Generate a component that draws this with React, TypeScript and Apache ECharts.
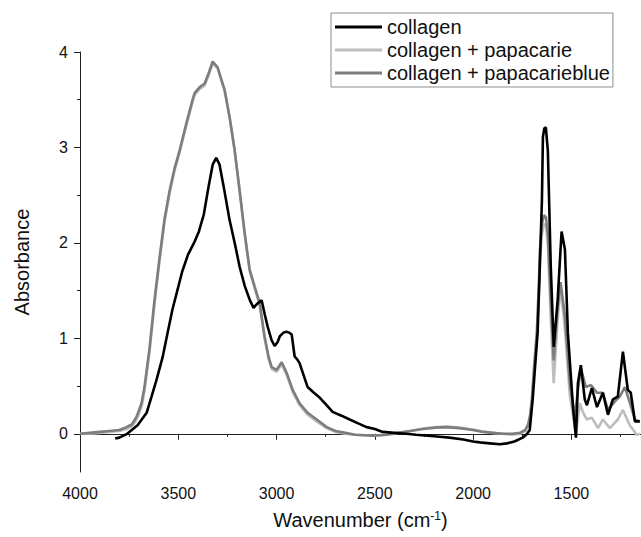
import React, { useEffect, useRef } from "react";
import * as echarts from "echarts";

// [wavenumber, absorbance]
const collagen: [number, number][] = [
  [3821, -0.05], [3800, -0.04], [3760, 0.0], [3707, 0.09], [3661, 0.22], [3636, 0.39], [3610, 0.57],
  [3580, 0.8], [3555, 1.05], [3530, 1.3], [3505, 1.5], [3480, 1.7], [3450, 1.88], [3420, 2.0],
  [3395, 2.12], [3370, 2.3], [3345, 2.6], [3325, 2.82], [3307, 2.89], [3290, 2.82], [3270, 2.6],
  [3240, 2.25], [3213, 2.0], [3188, 1.75], [3162, 1.55], [3136, 1.4], [3117, 1.32], [3100, 1.36],
  [3076, 1.4], [3060, 1.25], [3045, 1.12], [3025, 0.98], [3010, 0.92], [2995, 0.96], [2984, 1.02],
  [2965, 1.06], [2950, 1.07], [2935, 1.06], [2923, 1.04], [2908, 0.81], [2895, 0.78], [2883, 0.74],
  [2860, 0.6], [2842, 0.49], [2810, 0.43], [2781, 0.38], [2750, 0.31], [2715, 0.23], [2670, 0.19],
  [2628, 0.15], [2585, 0.11], [2542, 0.07], [2500, 0.05], [2460, 0.02], [2400, 0.01], [2340, 0.0],
  [2290, -0.01], [2230, -0.02], [2170, -0.03], [2120, -0.04], [2050, -0.06], [2000, -0.08],
  [1966, -0.09], [1915, -0.1], [1864, -0.11], [1829, -0.1], [1790, -0.08], [1748, -0.04],
  [1725, 0.0], [1712, 0.04], [1697, 0.36], [1685, 0.7], [1672, 1.06], [1660, 1.8], [1650, 2.45],
  [1645, 3.11], [1638, 3.2], [1630, 3.21], [1620, 2.97], [1605, 1.75], [1590, 0.91], [1570, 1.4],
  [1550, 2.12], [1533, 1.93], [1518, 1.06], [1492, 0.28], [1477, -0.04], [1467, 0.53], [1452, 0.72],
  [1432, 0.36], [1421, 0.3], [1396, 0.48], [1370, 0.28], [1340, 0.43], [1314, 0.2], [1289, 0.36],
  [1264, 0.39], [1238, 0.86], [1213, 0.46], [1198, 0.43], [1177, 0.13], [1152, 0.13],
];

const papacarie: [number, number][] = [
  [4000, 0.0], [3950, 0.0], [3900, 0.01], [3850, 0.02], [3800, 0.03], [3763, 0.05], [3735, 0.08],
  [3712, 0.15], [3687, 0.28], [3672, 0.45], [3646, 0.86], [3621, 1.36], [3595, 1.82], [3570, 2.22],
  [3544, 2.52], [3519, 2.76], [3493, 2.95], [3458, 3.24], [3430, 3.46], [3417, 3.55], [3392, 3.61],
  [3366, 3.65], [3345, 3.76], [3325, 3.88], [3300, 3.83], [3264, 3.59], [3239, 3.31], [3213, 2.96],
  [3188, 2.54], [3162, 2.09], [3137, 1.71], [3111, 1.52], [3086, 1.35], [3061, 1.0], [3040, 0.78],
  [3025, 0.68], [3000, 0.65], [2974, 0.73], [2949, 0.62], [2918, 0.44], [2883, 0.3], [2842, 0.2],
  [2796, 0.13], [2745, 0.06], [2700, 0.02], [2650, 0.0], [2600, -0.01], [2510, -0.02], [2440, -0.01],
  [2383, 0.01], [2320, 0.03], [2256, 0.055], [2190, 0.07], [2134, 0.075], [2070, 0.065], [2001, 0.045],
  [1950, 0.025], [1900, 0.01], [1850, 0.0], [1800, -0.01], [1762, 0.0], [1735, 0.03], [1720, 0.08],
  [1710, 0.18], [1701, 0.33], [1690, 0.65], [1676, 1.0], [1665, 1.5], [1660, 1.8], [1650, 2.1],
  [1640, 2.2], [1630, 2.18], [1620, 2.0], [1605, 1.2], [1590, 0.53], [1570, 1.2], [1555, 1.54],
  [1533, 1.1], [1508, 0.4], [1477, 0.0], [1457, 0.32], [1440, 0.22], [1421, 0.15], [1396, 0.17],
  [1365, 0.06], [1340, 0.15], [1304, 0.06], [1264, 0.15], [1238, 0.25], [1203, 0.09], [1167, -0.01],
  [1152, 0.0],
];

const papacarieblue: [number, number][] = [
  [4000, 0.0], [3950, 0.01], [3900, 0.02], [3850, 0.03], [3800, 0.04], [3763, 0.07], [3735, 0.1],
  [3712, 0.18], [3687, 0.32], [3672, 0.49], [3646, 0.9], [3621, 1.4], [3595, 1.85], [3570, 2.25],
  [3544, 2.55], [3519, 2.78], [3493, 2.97], [3458, 3.26], [3430, 3.48], [3417, 3.57], [3392, 3.63],
  [3366, 3.67], [3345, 3.78], [3325, 3.9], [3300, 3.84], [3264, 3.6], [3239, 3.32], [3213, 2.97],
  [3188, 2.55], [3162, 2.1], [3137, 1.72], [3111, 1.54], [3086, 1.37], [3061, 1.02], [3040, 0.8],
  [3025, 0.7], [3000, 0.67], [2974, 0.75], [2949, 0.64], [2918, 0.46], [2883, 0.32], [2842, 0.22],
  [2796, 0.15], [2745, 0.07], [2700, 0.03], [2650, 0.01], [2600, -0.01], [2510, -0.02], [2440, -0.01],
  [2383, 0.01], [2320, 0.03], [2256, 0.05], [2190, 0.065], [2134, 0.07], [2070, 0.06], [2001, 0.04],
  [1950, 0.02], [1900, 0.01], [1850, 0.0], [1800, 0.0], [1762, 0.01], [1735, 0.04], [1720, 0.1],
  [1710, 0.2], [1701, 0.36], [1690, 0.7], [1676, 1.06], [1665, 1.6], [1660, 1.93], [1650, 2.2],
  [1640, 2.29], [1630, 2.27], [1620, 2.1], [1605, 1.4], [1590, 0.77], [1570, 1.33], [1555, 1.59],
  [1533, 1.23], [1508, 0.53], [1482, 0.18], [1467, 0.46], [1452, 0.69], [1427, 0.49], [1401, 0.51],
  [1370, 0.43], [1340, 0.43], [1314, 0.25], [1279, 0.34], [1254, 0.39], [1228, 0.49], [1208, 0.36],
  [1177, 0.15], [1152, 0.13],
];

const seriesNames = ["collagen", "collagen + papacarie", "collagen + papacarieblue"];
const xMajorTicks = [1500, 2000, 2500, 3000, 3500, 4000];
const xMinorTicks = [1250, 1750, 2250, 2750, 3250, 3750];
const yMajorTicks = [0, 1, 2, 3, 4];
const yMinorTicks = [0.5, 1.5, 2.5, 3.5];

const FONT = "'Liberation Sans', Arial, sans-serif";
const AXIS_COLOR = "#222";

export default function App() {
  const ref = useRef<HTMLDivElement>(null);
  useEffect(() => {
    if (!ref.current) return;
    const chart = echarts.init(ref.current, undefined, { renderer: "svg" });
    const xBase = {
      type: "value" as const,
      min: 1146,
      max: 4000,
      inverse: true,
      position: "bottom" as const,
      splitLine: { show: false },
    };
    const yBase = {
      type: "value" as const,
      min: -0.4,
      max: 4,
      position: "left" as const,
      splitLine: { show: false },
    };
    chart.setOption({
      animation: false,
      backgroundColor: "#fff",
      textStyle: { fontFamily: FONT },
      grid: { left: 80, right: 0, top: 52, bottom: 65, containLabel: false },
      legend: {
        orient: "vertical",
        left: 331,
        top: 13,
        padding: [4, 3, 4, 4],
        itemGap: 3,
        itemWidth: 47,
        itemHeight: 3,
        icon: "rect",
        borderColor: "#8c8c8c",
        borderWidth: 1,
        textStyle: { fontSize: 20, color: "#111", fontFamily: FONT },
        data: seriesNames,
      },
      xAxis: [
        {
          ...xBase,
          name: "Wavenumber (cm{sup|-1})",
          nameLocation: "middle",
          nameGap: 38,
          nameTextStyle: {
            fontSize: 20,
            color: "#111",
            fontFamily: FONT,
            rich: { sup: { fontSize: 12, verticalAlign: "top", color: "#111", fontFamily: FONT } },
          },
          axisLine: { show: true, lineStyle: { color: AXIS_COLOR, width: 1 } },
          axisTick: { show: true, length: 6, customValues: xMajorTicks, lineStyle: { color: AXIS_COLOR } },
          axisLabel: {
            show: true,
            customValues: xMajorTicks,
            formatter: (v: number) => String(v),
            fontSize: 16,
            color: "#111",
            margin: 13,
            fontFamily: FONT,
          },
        },
        {
          ...xBase,
          axisLine: { show: false },
          axisTick: { show: true, length: 3, customValues: xMinorTicks, lineStyle: { color: AXIS_COLOR } },
          axisLabel: { show: false },
        },
      ],
      yAxis: [
        {
          ...yBase,
          name: "Absorbance",
          nameLocation: "middle",
          nameGap: 48,
          nameTextStyle: { fontSize: 20, color: "#111", fontFamily: FONT },
          axisLine: { show: true, lineStyle: { color: AXIS_COLOR, width: 1 } },
          axisTick: { show: true, length: 6, customValues: yMajorTicks, lineStyle: { color: AXIS_COLOR } },
          axisLabel: {
            show: true,
            customValues: yMajorTicks,
            formatter: (v: number) => String(v),
            fontSize: 16,
            color: "#111",
            margin: 12,
            fontFamily: FONT,
          },
        },
        {
          ...yBase,
          axisLine: { show: false },
          axisTick: { show: true, length: 3, customValues: yMinorTicks, lineStyle: { color: AXIS_COLOR } },
          axisLabel: { show: false },
        },
      ],
      series: [
        {
          name: seriesNames[0],
          type: "line",
          data: collagen,
          symbol: "none",
          color: "#000",
          lineStyle: { color: "#000", width: 2.6 },
          z: 5,
        },
        {
          name: seriesNames[1],
          type: "line",
          data: papacarie,
          symbol: "none",
          color: "#bdbdbd",
          lineStyle: { color: "#bdbdbd", width: 2.6 },
          z: 3,
        },
        {
          name: seriesNames[2],
          type: "line",
          data: papacarieblue,
          symbol: "none",
          color: "#7d7d7d",
          lineStyle: { color: "#7d7d7d", width: 2.6 },
          z: 4,
        },
      ],
    });
    return () => chart.dispose();
  }, []);
  return (
    <div
      ref={ref}
      style={{ position: "fixed", left: 0, top: 0, width: 641, height: 537, background: "#fff" }}
    />
  );
}
